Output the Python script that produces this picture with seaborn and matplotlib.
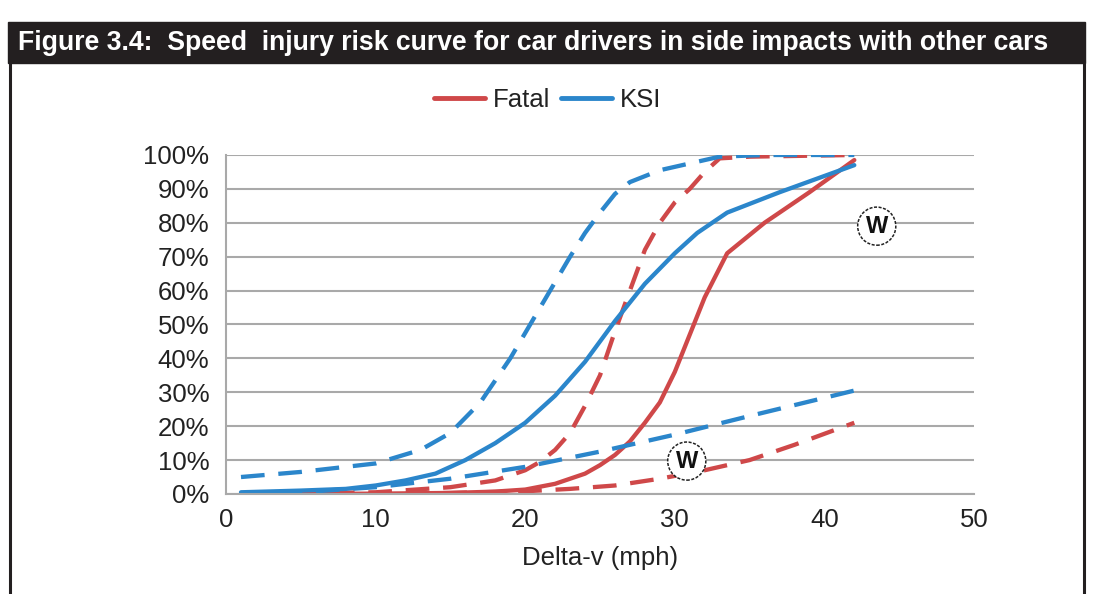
import pandas as pd
import matplotlib.pyplot as plt
import seaborn as sns
from matplotlib.patches import Rectangle
from matplotlib.lines import Line2D

sns.set_theme(style="white")
plt.rcParams["font.family"] = ["Liberation Sans", "DejaVu Sans"]

RED = "#cf4849"
BLUE = "#2b86cb"

# Fatal risk (central estimate and bounds)
fatal_x = [2, 5, 10, 15, 18, 20, 22, 24, 25, 26, 27, 28, 29, 30, 31, 32, 33.5, 36, 39, 42]
fatal_y = [0, 0, 0.1, 0.3, 0.7, 1.3, 3, 6, 8.5, 11.5, 15.5, 21, 27, 36, 47, 58, 71, 80, 89, 98.5]

fatal_hi_x = [2, 10, 15, 18, 20, 21, 22, 23, 24, 25, 26, 27, 28, 29, 30, 31, 32, 33, 35, 42]
fatal_hi_y = [0, 0.5, 2, 4, 7, 9.5, 13, 18, 26, 35, 48, 60, 72, 80, 86, 90, 95, 99, 99.5, 100]

fatal_lo_x = [2, 10, 15, 20, 23, 26, 29, 32, 35, 38, 42]
fatal_lo_y = [0, 0, 0.3, 0.8, 1.5, 2.5, 4.5, 7, 10, 14.5, 21]

# KSI risk (central estimate and bounds)
ksi_x = [1, 5, 8, 10, 12, 14, 16, 18, 20, 22, 24, 26, 28, 30, 31.5, 33.5, 37, 42]
ksi_y = [0.5, 1, 1.5, 2.5, 4, 6, 10, 15, 21, 29, 39, 51, 62, 71, 77, 83, 89, 97]

ksi_hi_x = [1, 5, 10, 13, 15, 17, 19, 21, 23, 24, 25, 26, 27, 29, 31, 33, 36, 42]
ksi_hi_y = [5, 6.5, 9, 13, 18, 27, 40, 55, 70, 77, 83, 88.5, 92, 95.5, 97.5, 99.5, 100, 100]

ksi_lo_x = [1, 5, 10, 15, 20, 25, 30, 35, 42]
ksi_lo_y = [0, 0.5, 2, 4.5, 8, 12.5, 17.5, 23, 30.5]

# "W" marker positions (delta-v, %)
w_x = [43.5, 30.8]
w_y = [79, 9.7]

series = [
    ("Fatal", "central", fatal_x, fatal_y),
    ("Fatal", "upper", fatal_hi_x, fatal_hi_y),
    ("Fatal", "lower", fatal_lo_x, fatal_lo_y),
    ("KSI", "central", ksi_x, ksi_y),
    ("KSI", "upper", ksi_hi_x, ksi_hi_y),
    ("KSI", "lower", ksi_lo_x, ksi_lo_y),
]

frames = []
for outcome, band, xs, ys in series:
    frames.append(pd.DataFrame({"dv": xs, "risk": ys, "outcome": outcome, "band": band}))
df = pd.concat(frames, ignore_index=True)

fig = plt.figure(figsize=(10.93, 5.94), dpi=100)
ax = fig.add_axes([0.2068, 0.1684, 0.6843, 0.5707])

colors = {"Fatal": RED, "KSI": BLUE}

for (outcome, band), sub in df.groupby(["outcome", "band"]):
    sns.lineplot(
        data=sub,
        x="dv",
        y="risk",
        ax=ax,
        color=colors[outcome],
        lw=3.1,
        estimator=None,
        sort=False,
        linestyle="-" if band == "central" else (0, (5.5, 3.2)),
    )

for wx, wy in zip(w_x, w_y):
    ax.text(
        wx, wy, "W",
        ha="center", va="center",
        fontsize=17, fontweight="heavy", color="#111111",
        bbox=dict(boxstyle="circle,pad=0.32", fc="white", ec="#222222",
                  lw=1.1, ls=(0, (2, 1))),
    )

ax.set_xlim(0, 50)
ax.set_ylim(0, 100)
ax.set_xticks(range(0, 51, 10))
ax.set_yticks(range(0, 101, 10))
ax.set_yticklabels([f"{v}%" for v in range(0, 101, 10)])
ax.yaxis.grid(True, color="#a9a9a9", lw=1.5)
ax.set_axisbelow(True)
for side in ["top", "right"]:
    ax.spines[side].set_visible(False)
for side in ["left", "bottom"]:
    ax.spines[side].set_color("#a9a9a9")
    ax.spines[side].set_linewidth(1.5)
ax.tick_params(axis="both", labelsize=18.5, labelcolor="#222222", color="#a9a9a9",
               length=6, width=1.5, direction="out", pad=4)
ax.tick_params(axis="y", length=8, pad=4)
ax.set_xlabel("Delta-v (mph)", fontsize=18.5, color="#222222", labelpad=10)
ax.set_ylabel("")

handles = [
    Line2D([], [], color=RED, lw=3.5),
    Line2D([], [], color=BLUE, lw=3.5),
]
fig.legend(
    handles, ["Fatal", "KSI"],
    loc="center", bbox_to_anchor=(0.501, 0.832),
    ncol=2, frameon=False, fontsize=18.5, labelcolor="#222222",
    handlelength=2.0, handletextpad=0.3, columnspacing=0.4,
)

# title bar and frame
fig.patches.append(Rectangle((8 / 1093, 1 - 63 / 594), 1077 / 1093, 41 / 594,
                             transform=fig.transFigure, color="#231f20", zorder=0))
fig.add_artist(Line2D([9.5 / 1093, 9.5 / 1093], [0, 1 - 60 / 594], color="#231f20", lw=2.2))
fig.add_artist(Line2D([1083.5 / 1093, 1083.5 / 1093], [0, 1 - 60 / 594], color="#231f20", lw=2.2))
fig.text(18 / 1093, 1 - 43 / 594,
         "Figure 3.4:  Speed  injury risk curve for car drivers in side impacts with other cars",
         color="white", fontsize=19.2, fontweight="bold", va="center", ha="left")

fig.savefig("out.png", dpi=100)
